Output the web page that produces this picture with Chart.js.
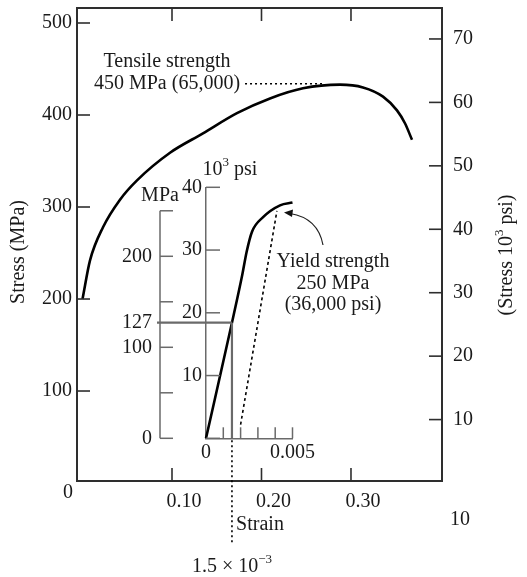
<!DOCTYPE html>
<html>
<head>
<meta charset="utf-8">
<script src="https://cdn.jsdelivr.net/npm/chart.js@4.4.1/dist/chart.umd.min.js"></script>
<style>
  body { margin: 0; background: #fff; }
  #wrap { position: relative; width: 527px; height: 577px; }
  #wrap canvas { position: absolute; left: 0; top: 0; }
</style>
</head>
<body>
<div id="wrap">
  <canvas id="mainChart" width="527" height="577"></canvas>
  <canvas id="insetChart" width="527" height="577"></canvas>
</div>
<script>
// Main stress-strain curve (strain, MPa)
const mainStrain = [0, 0.0084, 0.0229, 0.0419, 0.0609, 0.0978, 0.1346, 0.1726, 0.2095, 0.2464, 0.2877, 0.3134, 0.3358, 0.3514, 0.3603, 0.3682];
const mainStress = [200, 242, 278, 308, 329, 359, 380, 402, 418, 429, 433, 430, 420, 405, 391, 373];

// Tensile strength leader line
const tensileStrain = [0.1816, 0.2687];
const tensileStress = [434, 434];

// Main axis ticks
const strainTicks = [0.1, 0.2, 0.3];
const strainTickLabels = ['0.10', '0.20', '0.30'];
const stressTicks = [100, 200, 300, 400, 500];
const psiTicks = [10, 20, 30, 40, 50, 60, 70];

// Inset: elastic region (strain, MPa)
const insetStrain = [0, 0.0015, 0.0021, 0.00235, 0.00266, 0.0033, 0.00428, 0.005];
const insetStress = [0, 127, 180, 205, 227, 243, 256, 259];

// 0.2% offset line
const offsetStrain = [0.002, 0.0041];
const offsetStress = [15, 250];

// Inset axis ticks
const insetStrainTicks = [0.001, 0.002, 0.003, 0.004, 0.005];
const insetStrainLabels = [0, 0.005];
const insetMpaTicks = [0, 50, 100, 150, 200, 250];
const insetMpaLabels = [0, 100, 127, 200];
const insetPsiTicks = [0, 10, 20, 30, 40];
const insetPsiLabels = [10, 20, 30, 40];

// Proportional limit marker
const limitStrain = 0.0015;
const limitStress = 127;

const MPA_PER_KSI = 6.895;
const FONT = '"Liberation Serif", "DejaVu Serif", serif';
const FS = 20;
const INK = '#1a1a1a';
const FRAME = '#2e2e2e';
const GREY = '#6a6a6a';

Chart.defaults.font.family = FONT;
Chart.defaults.font.size = FS;
Chart.defaults.color = INK;

function line(ctx, x1, y1, x2, y2) {
    ctx.beginPath();
    ctx.moveTo(x1, y1);
    ctx.lineTo(x2, y2);
    ctx.stroke();
}

// draw text made of normal and superscript parts, centred on x
function supText(ctx, parts, x, y) {
    const fontOf = p => (p.sup ? '13px ' : FS + 'px ') + FONT;
    let w = 0;
    parts.forEach(p => {
        ctx.font = fontOf(p);
        w += ctx.measureText(p.t).width;
    });
    let cx = x - w / 2;
    ctx.textAlign = 'left';
    parts.forEach(p => {
        ctx.font = fontOf(p);
        ctx.fillText(p.t, cx, p.sup ? y - 7 : y);
        cx += ctx.measureText(p.t).width;
    });
    ctx.font = FS + 'px ' + FONT;
    ctx.textAlign = 'center';
}

function fixedTicks(values) {
    return scale => { scale.ticks = values.map(v => ({ value: v })); };
}

// set box size and drop the automatic label padding
function fitBox(size) {
    return scale => {
        if (scale.isHorizontal()) {
            scale.height = size;
            scale.paddingLeft = 0;
            scale.paddingRight = 0;
        } else {
            scale.width = size;
            scale.paddingTop = 0;
            scale.paddingBottom = 0;
        }
    };
}

// ---------- main chart ----------
const mainDecor = {
    id: 'mainDecor',
    afterDraw(chart) {
        const { ctx, chartArea: a, scales } = chart;
        ctx.save();
        ctx.strokeStyle = FRAME;
        ctx.lineWidth = 1.6;
        strainTicks.forEach(v => {
            const px = scales.x.getPixelForValue(v);
            line(ctx, px, a.bottom, px, a.bottom - 13);
            line(ctx, px, a.top, px, a.top + 13);
        });
        stressTicks.forEach(v => {
            const py = scales.y.getPixelForValue(v);
            line(ctx, a.left, py, a.left + 13, py);
        });
        psiTicks.forEach(v => {
            const py = scales.yR.getPixelForValue(v);
            line(ctx, a.right, py, a.right - 13, py);
        });

        ctx.fillStyle = INK;
        ctx.font = FS + 'px ' + FONT;
        ctx.textAlign = 'center';
        ctx.textBaseline = 'middle';
        ctx.fillText('Tensile strength', 167, 62);
        ctx.fillText('450 MPa (65,000)', 167, 84);
        ctx.fillText('0', 68, 493);
        ctx.fillText('10', 460, 520);
        ctx.fillText('Strain', 260, 525);

        ctx.save();
        ctx.translate(19, 252);
        ctx.rotate(-Math.PI / 2);
        ctx.fillText('Stress (MPa)', 0, 0);
        ctx.restore();

        ctx.save();
        ctx.translate(507, 255);
        ctx.rotate(-Math.PI / 2);
        supText(ctx, [{ t: '(Stress 10' }, { t: '3', sup: true }, { t: ' psi)' }], 0, 0);
        ctx.restore();
        ctx.restore();
    }
};

const xMin = -0.00615, xMax = 0.4017;
const yMin = 2.2, yMax = 516.3;

new Chart(document.getElementById('mainChart'), {
    type: 'line',
    data: {
        datasets: [{
            data: mainStrain.map((x, i) => ({ x, y: mainStress[i] })),
            borderColor: '#000',
            borderWidth: 2.6,
            pointRadius: 0,
            cubicInterpolationMode: 'monotone',
            xAxisID: 'x',
            yAxisID: 'y'
        }, {
            data: tensileStrain.map((x, i) => ({ x, y: tensileStress[i] })),
            borderColor: '#000',
            borderWidth: 1.6,
            borderDash: [2, 3],
            pointRadius: 0,
            xAxisID: 'x',
            yAxisID: 'y'
        }]
    },
    options: {
        responsive: false,
        animation: false,
        events: [],
        layout: { padding: 0 },
        plugins: { legend: { display: false }, tooltip: { enabled: false } },
        scales: {
            x: {
                type: 'linear', position: 'bottom', min: xMin, max: xMax,
                afterBuildTicks: fixedTicks(strainTicks),
                afterFit: fitBox(96),
                ticks: { callback: (v, i) => strainTickLabels[i], padding: 9, labelOffset: 12, maxRotation: 0, autoSkip: false },
                grid: { display: false, drawTicks: false },
                border: { color: FRAME, width: 2 }
            },
            xTop: {
                type: 'linear', position: 'top', min: xMin, max: xMax,
                afterFit: fitBox(8),
                ticks: { display: false },
                grid: { display: false, drawTicks: false },
                border: { color: FRAME, width: 2 }
            },
            y: {
                type: 'linear', position: 'left', min: yMin, max: yMax,
                afterBuildTicks: fixedTicks(stressTicks),
                afterFit: fitBox(77),
                ticks: { padding: 5, autoSkip: false },
                grid: { display: false, drawTicks: false },
                border: { color: FRAME, width: 2 }
            },
            yR: {
                type: 'linear', position: 'right', min: yMin / MPA_PER_KSI, max: yMax / MPA_PER_KSI,
                afterBuildTicks: fixedTicks(psiTicks),
                afterFit: fitBox(85),
                ticks: { padding: 11, autoSkip: false },
                grid: { display: false, drawTicks: false },
                border: { color: FRAME, width: 2 }
            }
        }
    },
    plugins: [mainDecor]
});

// ---------- inset chart ----------
const insetDecor = {
    id: 'insetDecor',
    afterDraw(chart) {
        const { ctx, chartArea: a, scales } = chart;
        const sx = scales.x, sm = scales.yMPa, sp = scales.yPsi;
        ctx.save();
        ctx.strokeStyle = GREY;
        ctx.lineWidth = 1.5;
        // MPa axis line ends at 250
        line(ctx, sm.right, sm.getPixelForValue(0), sm.right, sm.getPixelForValue(250));
        insetMpaTicks.forEach(v => {
            const py = sm.getPixelForValue(v);
            line(ctx, sm.right, py, sm.right + 13, py);
        });
        insetPsiTicks.forEach(v => {
            const py = sp.getPixelForValue(v);
            line(ctx, a.left, py, a.left + 14, py);
        });
        insetStrainTicks.forEach(v => {
            const px = sx.getPixelForValue(v);
            line(ctx, px, a.bottom, px, a.bottom - 11);
        });

        // proportional limit guide lines
        const lx = sx.getPixelForValue(limitStrain);
        const ly = sm.getPixelForValue(limitStress);
        ctx.strokeStyle = GREY;
        ctx.lineWidth = 2.2;
        line(ctx, sm.right - 3, ly, lx, ly);
        line(ctx, lx, ly, lx, a.bottom);
        ctx.strokeStyle = '#000';
        ctx.lineWidth = 1.6;
        ctx.setLineDash([2, 3]);
        line(ctx, lx, a.bottom + 2, lx, 543);
        ctx.setLineDash([]);

        // labels
        ctx.fillStyle = INK;
        ctx.font = FS + 'px ' + FONT;
        ctx.textAlign = 'center';
        ctx.textBaseline = 'middle';
        ctx.fillText('MPa', 160, 196);
        supText(ctx, [{ t: '10' }, { t: '3', sup: true }, { t: ' psi' }], 230, 170);
        ctx.fillText('Yield strength', 333, 262);
        ctx.fillText('250 MPa', 333, 284);
        ctx.fillText('(36,000 psi)', 333, 305);
        supText(ctx, [{ t: '1.5 \u00d7 10' }, { t: '\u22123', sup: true }], lx, 567);

        // curved arrow to yield point
        ctx.strokeStyle = '#222';
        ctx.lineWidth = 1.2;
        ctx.beginPath();
        ctx.moveTo(323, 245);
        ctx.quadraticCurveTo(318, 218, 290, 213.5);
        ctx.stroke();
        ctx.fillStyle = '#111';
        ctx.beginPath();
        ctx.moveTo(284, 212.5);
        ctx.lineTo(293, 209.5);
        ctx.lineTo(292, 217);
        ctx.closePath();
        ctx.fill();
        ctx.restore();
    }
};

const insetMpaMax = 40 * MPA_PER_KSI;

new Chart(document.getElementById('insetChart'), {
    type: 'line',
    data: {
        datasets: [{
            data: insetStrain.map((x, i) => ({ x, y: insetStress[i] })),
            borderColor: '#000',
            borderWidth: 2.6,
            pointRadius: 0,
            cubicInterpolationMode: 'monotone',
            clip: 4,
            xAxisID: 'x',
            yAxisID: 'yMPa'
        }, {
            data: offsetStrain.map((x, i) => ({ x, y: offsetStress[i] })),
            borderColor: '#000',
            borderWidth: 1.6,
            borderDash: [3, 3],
            pointRadius: 0,
            xAxisID: 'x',
            yAxisID: 'yMPa'
        }]
    },
    options: {
        responsive: false,
        animation: false,
        events: [],
        layout: { padding: { left: 100, top: 187.3, right: 234.5, bottom: 98.7 } },
        plugins: { legend: { display: false }, tooltip: { enabled: false } },
        scales: {
            x: {
                type: 'linear', position: 'bottom', min: 0, max: 0.005,
                afterBuildTicks: fixedTicks(insetStrainLabels),
                afterFit: fitBox(40),
                ticks: { callback: v => String(v), padding: 2, maxRotation: 0, autoSkip: false },
                grid: { display: false, drawTicks: false },
                border: { color: GREY, width: 1.5 }
            },
            yPsi: {
                type: 'linear', position: 'left', weight: 0, min: 0, max: 40,
                afterBuildTicks: fixedTicks(insetPsiLabels),
                afterFit: fitBox(46),
                ticks: { padding: 4, autoSkip: false },
                grid: { display: false, drawTicks: false },
                border: { color: GREY, width: 1.5 }
            },
            yMPa: {
                type: 'linear', position: 'left', weight: 1, min: 0, max: insetMpaMax,
                afterBuildTicks: fixedTicks(insetMpaLabels),
                afterFit: fitBox(60),
                ticks: { padding: 8, autoSkip: false },
                grid: { display: false, drawTicks: false },
                border: { display: false }
            }
        }
    },
    plugins: [insetDecor]
});
</script>
</body>
</html>
